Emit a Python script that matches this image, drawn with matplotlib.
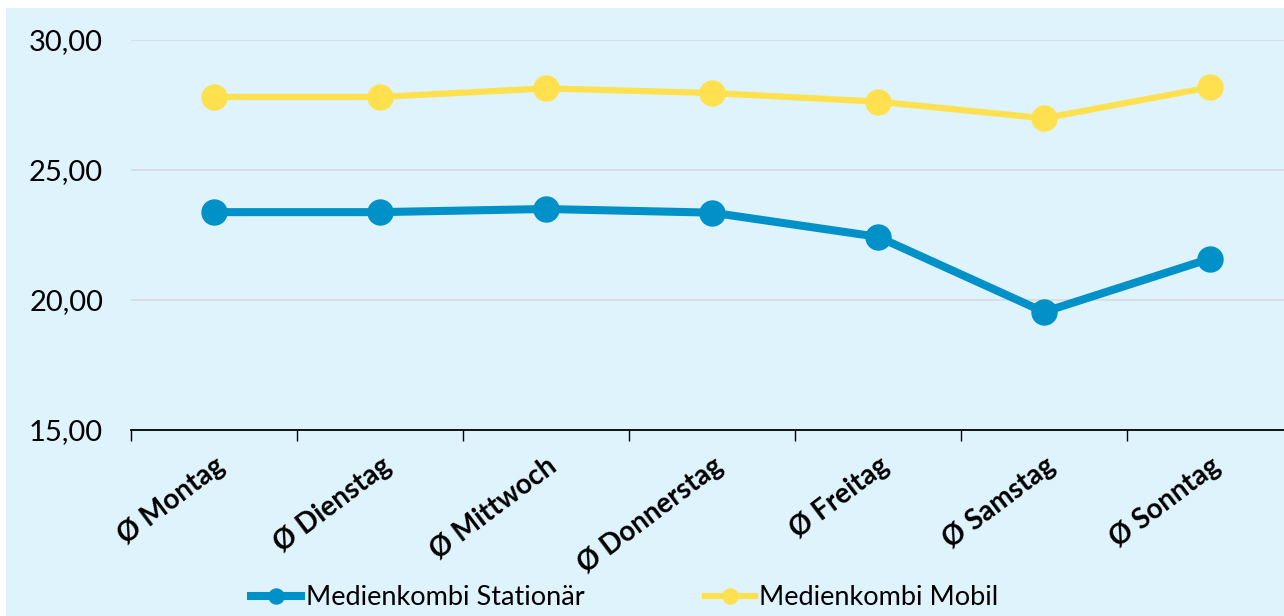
import matplotlib.pyplot as plt
import numpy as np
from matplotlib.patches import Rectangle

# data
days = ['Ø Montag', 'Ø Dienstag', 'Ø Mittwoch', 'Ø Donnerstag',
        'Ø Freitag', 'Ø Samstag', 'Ø Sonntag']
stationaer = [23.38, 23.38, 23.50, 23.36, 22.43, 19.54, 21.59]
mobil = [27.81, 27.81, 28.14, 27.96, 27.63, 26.99, 28.18]

bg = '#DFF3FD'
blue = '#0091C8'
yellow = '#FFE04F'

plt.rcParams['font.family'] = ['Lato', 'DejaVu Sans']

fig = plt.figure(figsize=(12.84, 6.16), dpi=100, facecolor='white')
# light blue panel, white strip at top and left
fig.patches.append(Rectangle((6/1284, 0), 1, (616-8)/616, transform=fig.transFigure,
                             facecolor=bg, edgecolor='none', zorder=-10))

ax = fig.add_axes([131/1284, (616-430)/616, (1293-131)/1284, 390/616])
ax.set_facecolor('none')

x = np.arange(len(days))
ax.plot(x, stationaer, color=blue, lw=5.8, marker='o', ms=18,
        label='Medienkombi Stationär', clip_on=False, zorder=3)
ax.plot(x, mobil, color=yellow, lw=4.5, marker='o', ms=18,
        label='Medienkombi Mobil', clip_on=False, zorder=3)

ax.set_xlim(-0.5, 6.5)
ax.set_ylim(15, 30)
ax.set_yticks([15, 20, 25, 30])
ax.set_yticklabels(['15,00', '20,00', '25,00', '30,00'], fontsize=21)
ax.tick_params(axis='y', length=0, pad=20)
ax.yaxis.grid(True, color='#D6D9DD', lw=1.2)
ax.set_axisbelow(True)

ax.set_xticks(x)
ax.set_xticklabels(days, rotation=37, ha='right', rotation_mode='anchor',
                   fontsize=20, fontweight='bold')
ax.tick_params(axis='x', length=0, pad=16)
ax.set_xticks(np.arange(-0.5, 7, 1), minor=True)
ax.tick_params(axis='x', which='minor', length=8, width=1, color='black')

for s in ['top', 'right', 'left']:
    ax.spines[s].set_visible(False)
ax.spines['bottom'].set_color('black')
ax.spines['bottom'].set_linewidth(1.3)

fig.legend(loc='lower left', bbox_to_anchor=(227/1284, -0.03), ncol=2, frameon=False,
           fontsize=19.5, handlelength=1.85, handletextpad=0.15, columnspacing=4.45,
           markerscale=0.6)

fig.savefig('out.png', dpi=100, facecolor=fig.get_facecolor())
